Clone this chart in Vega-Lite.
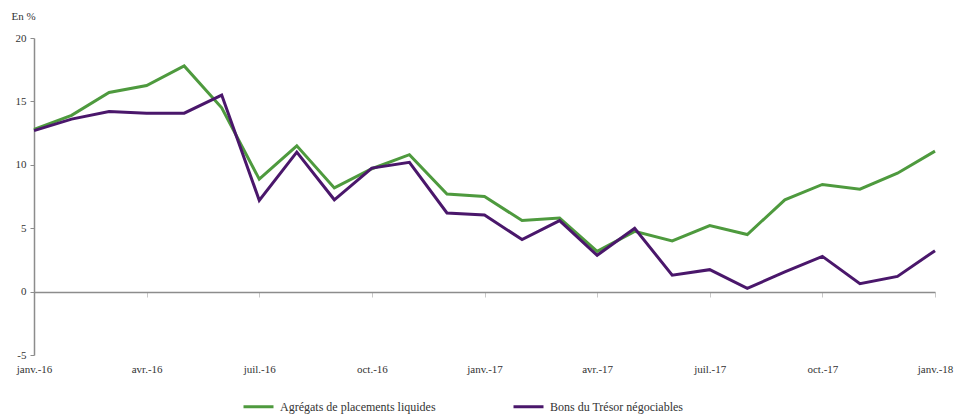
{
  "$schema": "https://vega.github.io/schema/vega-lite/v6.json",
  "width": 901,
  "height": 317,
  "autosize": "none",
  "padding": {"left": 34, "top": 38, "right": 22, "bottom": 63},
  "background": "white",
  "config": {
    "view": {"stroke": null},
    "font": "Liberation Serif, DejaVu Serif, serif"
  },
  "data": {
    "values": [
      {"mois": "janv.-16", "serie": "Agrégats de placements liquides", "valeur": 12.8},
      {"mois": "févr.-16", "serie": "Agrégats de placements liquides", "valeur": 13.9},
      {"mois": "mars-16", "serie": "Agrégats de placements liquides", "valeur": 15.7},
      {"mois": "avr.-16", "serie": "Agrégats de placements liquides", "valeur": 16.25},
      {"mois": "mai-16", "serie": "Agrégats de placements liquides", "valeur": 17.8},
      {"mois": "juin-16", "serie": "Agrégats de placements liquides", "valeur": 14.5},
      {"mois": "juil.-16", "serie": "Agrégats de placements liquides", "valeur": 8.87},
      {"mois": "août-16", "serie": "Agrégats de placements liquides", "valeur": 11.5},
      {"mois": "sept.-16", "serie": "Agrégats de placements liquides", "valeur": 8.18},
      {"mois": "oct.-16", "serie": "Agrégats de placements liquides", "valeur": 9.69},
      {"mois": "nov.-16", "serie": "Agrégats de placements liquides", "valeur": 10.8},
      {"mois": "déc.-16", "serie": "Agrégats de placements liquides", "valeur": 7.69},
      {"mois": "janv.-17", "serie": "Agrégats de placements liquides", "valeur": 7.5},
      {"mois": "févr.-17", "serie": "Agrégats de placements liquides", "valeur": 5.6},
      {"mois": "mars-17", "serie": "Agrégats de placements liquides", "valeur": 5.8},
      {"mois": "avr.-17", "serie": "Agrégats de placements liquides", "valeur": 3.17},
      {"mois": "mai-17", "serie": "Agrégats de placements liquides", "valeur": 4.75},
      {"mois": "juin-17", "serie": "Agrégats de placements liquides", "valeur": 4.0},
      {"mois": "juil.-17", "serie": "Agrégats de placements liquides", "valeur": 5.2},
      {"mois": "août-17", "serie": "Agrégats de placements liquides", "valeur": 4.5},
      {"mois": "sept.-17", "serie": "Agrégats de placements liquides", "valeur": 7.24},
      {"mois": "oct.-17", "serie": "Agrégats de placements liquides", "valeur": 8.45},
      {"mois": "nov.-17", "serie": "Agrégats de placements liquides", "valeur": 8.08},
      {"mois": "déc.-17", "serie": "Agrégats de placements liquides", "valeur": 9.34},
      {"mois": "janv.-18", "serie": "Agrégats de placements liquides", "valeur": 11.08},
      {"mois": "janv.-16", "serie": "Bons du Trésor négociables", "valeur": 12.7},
      {"mois": "févr.-16", "serie": "Bons du Trésor négociables", "valeur": 13.6},
      {"mois": "mars-16", "serie": "Bons du Trésor négociables", "valeur": 14.2},
      {"mois": "avr.-16", "serie": "Bons du Trésor négociables", "valeur": 14.07},
      {"mois": "mai-16", "serie": "Bons du Trésor négociables", "valeur": 14.07},
      {"mois": "juin-16", "serie": "Bons du Trésor négociables", "valeur": 15.5},
      {"mois": "juil.-16", "serie": "Bons du Trésor négociables", "valeur": 7.2},
      {"mois": "août-16", "serie": "Bons du Trésor négociables", "valeur": 11.0},
      {"mois": "sept.-16", "serie": "Bons du Trésor négociables", "valeur": 7.24},
      {"mois": "oct.-16", "serie": "Bons du Trésor négociables", "valeur": 9.74},
      {"mois": "nov.-16", "serie": "Bons du Trésor négociables", "valeur": 10.2},
      {"mois": "déc.-16", "serie": "Bons du Trésor négociables", "valeur": 6.2},
      {"mois": "janv.-17", "serie": "Bons du Trésor négociables", "valeur": 6.04},
      {"mois": "févr.-17", "serie": "Bons du Trésor négociables", "valeur": 4.1},
      {"mois": "mars-17", "serie": "Bons du Trésor négociables", "valeur": 5.6},
      {"mois": "avr.-17", "serie": "Bons du Trésor négociables", "valeur": 2.86},
      {"mois": "mai-17", "serie": "Bons du Trésor négociables", "valeur": 5.0},
      {"mois": "juin-17", "serie": "Bons du Trésor négociables", "valeur": 1.29},
      {"mois": "juil.-17", "serie": "Bons du Trésor négociables", "valeur": 1.73},
      {"mois": "août-17", "serie": "Bons du Trésor négociables", "valeur": 0.26},
      {"mois": "sept.-17", "serie": "Bons du Trésor négociables", "valeur": 1.55},
      {"mois": "oct.-17", "serie": "Bons du Trésor négociables", "valeur": 2.78},
      {"mois": "nov.-17", "serie": "Bons du Trésor négociables", "valeur": 0.63},
      {"mois": "déc.-17", "serie": "Bons du Trésor négociables", "valeur": 1.2},
      {"mois": "janv.-18", "serie": "Bons du Trésor négociables", "valeur": 3.23}
    ]
  },
  "mark": {"type": "line", "strokeWidth": 3, "clip": false},
  "encoding": {
    "x": {
      "field": "mois",
      "type": "ordinal",
      "sort": null,
      "scale": {"type": "point", "padding": 0},
      "axis": {
        "title": null,
        "values": ["janv.-16", "avr.-16", "juil.-16", "oct.-16", "janv.-17", "avr.-17", "juil.-17", "oct.-17", "janv.-18"],
        "offset": -63,
        "domainColor": "#8c8c8c",
        "domainWidth": 1.5,
        "tickColor": "#c8c8c8",
        "tickSize": 5,
        "labelPadding": 66,
        "labelAngle": 0,
        "labelFontSize": 11,
        "labelColor": "#333333",
        "grid": false
      }
    },
    "y": {
      "field": "valeur",
      "type": "quantitative",
      "scale": {"domain": [-5, 20], "nice": false, "zero": false},
      "axis": {
        "values": [-5, 0, 5, 10, 15, 20],
        "labelExpr": "'' + datum.value",
        "title": "En %",
        "titleAngle": 0,
        "titleAlign": "left",
        "titleBaseline": "middle",
        "titleX": -23,
        "titleY": -22,
        "titleFontSize": 11,
        "titleFontWeight": "normal",
        "titleColor": "#333333",
        "domainColor": "#8c8c8c",
        "domainWidth": 1.5,
        "tickColor": "#8c8c8c",
        "tickSize": 4,
        "labelPadding": 4,
        "labelFontSize": 11,
        "labelColor": "#333333",
        "grid": false
      }
    },
    "color": {
      "field": "serie",
      "type": "nominal",
      "scale": {
        "domain": ["Agrégats de placements liquides", "Bons du Trésor négociables"],
        "range": ["#4e9a3e", "#4a176b"]
      },
      "legend": {
        "title": null,
        "orient": "none",
        "direction": "horizontal",
        "legendX": 208,
        "legendY": 352,
        "symbolType": "stroke",
        "symbolSize": 900,
        "symbolStrokeWidth": 3,
        "labelFontSize": 12,
        "labelColor": "#333333",
        "labelOffset": 5,
        "columnPadding": 71
      }
    }
  }
}
